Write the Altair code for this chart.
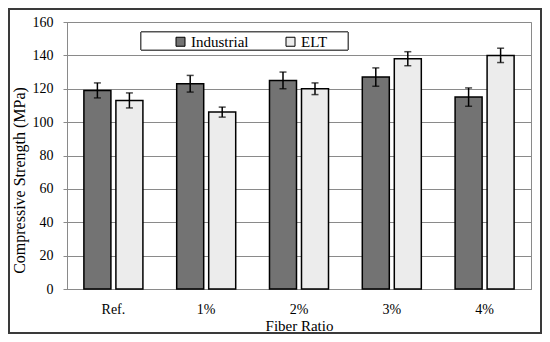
import altair as alt
import pandas as pd

categories = ["Ref.", "1%", "2%", "3%", "4%"]
series = ["Industrial", "ELT"]
industrial = [119, 123, 125, 127, 115]
industrial_err = [4.5, 5, 5, 5.5, 5.5]
elt = [113, 106, 120, 138, 140]
elt_err = [4.5, 3, 3.5, 4.2, 4.3]
y_ticks = [0, 20, 40, 60, 80, 100, 120, 140, 160]

rows = []
for c, v, e in zip(categories, industrial, industrial_err):
    rows.append({"ratio": c, "type": "Industrial", "val": v, "lo": v - e, "hi": v + e})
for c, v, e in zip(categories, elt, elt_err):
    rows.append({"ratio": c, "type": "ELT", "val": v, "lo": v - e, "hi": v + e})
df = pd.DataFrame(rows)

W, H = 464, 267
FONT = "Liberation Serif"
GRID = "#8a8a8a"

xaxis = alt.Axis(title="Fiber Ratio", labelAngle=0, ticks=False,
                 labelPadding=13, domainColor=GRID,
                 titleY=36, titleBaseline="middle")
yaxis = alt.Axis(title="Compressive Strength (MPa)", values=y_ticks, tickCount=9,
                 labelOverlap=False,
                 grid=True, gridColor=GRID, tickSize=4, tickColor=GRID,
                 domainColor=GRID, labelPadding=10, titleFontSize=16,
                 titleX=-48, titleY=158, titleBaseline="middle")
xscale = alt.Scale(paddingInner=0.364, paddingOuter=0.182)
xenc = alt.X("ratio:N", sort=categories, scale=xscale, axis=xaxis)
xoff = alt.XOffset("type:N", sort=series, scale=alt.Scale(paddingInner=0.156, paddingOuter=0))
yscale = alt.Scale(domain=[0, 160], nice=False)

bars = alt.Chart(df).mark_bar(stroke="black", strokeWidth=1.5).encode(
    x=xenc,
    xOffset=xoff,
    y=alt.Y("val:Q", scale=yscale, axis=yaxis),
    fill=alt.Fill("type:N", sort=series,
                  scale=alt.Scale(domain=series, range=["#737373", "#ececec"]),
                  legend=alt.Legend(title=None, orient="none", direction="horizontal",
                                    legendX=106, legendY=12, padding=0,
                                    symbolType="square", symbolSize=81,
                                    symbolStrokeColor="black", symbolStrokeWidth=1,
                                    labelFont=FONT, labelFontSize=15, labelColor="black",
                                    labelOffset=3, columnPadding=34)),
)

rules = alt.Chart(df).mark_rule(color="black", strokeWidth=1.5).encode(
    x=xenc, xOffset=xoff,
    y=alt.Y("lo:Q", scale=yscale, axis=yaxis), y2="hi:Q")
caps_hi = alt.Chart(df).mark_tick(color="black", thickness=1.5, size=7).encode(
    x=xenc, xOffset=xoff,
    y=alt.Y("hi:Q", scale=yscale, axis=yaxis))
caps_lo = alt.Chart(df).mark_tick(color="black", thickness=1.5, size=7).encode(
    x=xenc, xOffset=xoff,
    y=alt.Y("lo:Q", scale=yscale, axis=yaxis))

legend_box = alt.Chart(df).mark_rect(fill="white", stroke="#555555", strokeWidth=1).encode(
    x=alt.value(74), x2=alt.value(281), y=alt.value(10), y2=alt.value(28))

frame = alt.Chart(df).mark_rect(fill=None, stroke="#3a3a3a", strokeWidth=2).encode(
    x=alt.value(-58), x2=alt.value(W + 10), y=alt.value(-13), y2=alt.value(H + 44))

chart = alt.layer(bars, rules, caps_hi, caps_lo, legend_box, frame).properties(
    width=W, height=H,
    autosize=alt.AutoSizeParams(type="none"),
    padding={"left": 59, "top": 14, "right": 11, "bottom": 45},
    background="white",
).configure(font=FONT).configure_view(stroke=GRID, strokeWidth=1).configure_axis(
    labelFont=FONT, titleFont=FONT, labelFontSize=14, titleFontSize=14,
    labelColor="black", titleColor="black", titleFontWeight="normal",
).configure_axisX(titleFontSize=15).configure_legend(
    labelFont=FONT, labelFontSize=15, labelColor="black")

chart.save("out.html", embed_options={"renderer": "svg", "actions": False})
